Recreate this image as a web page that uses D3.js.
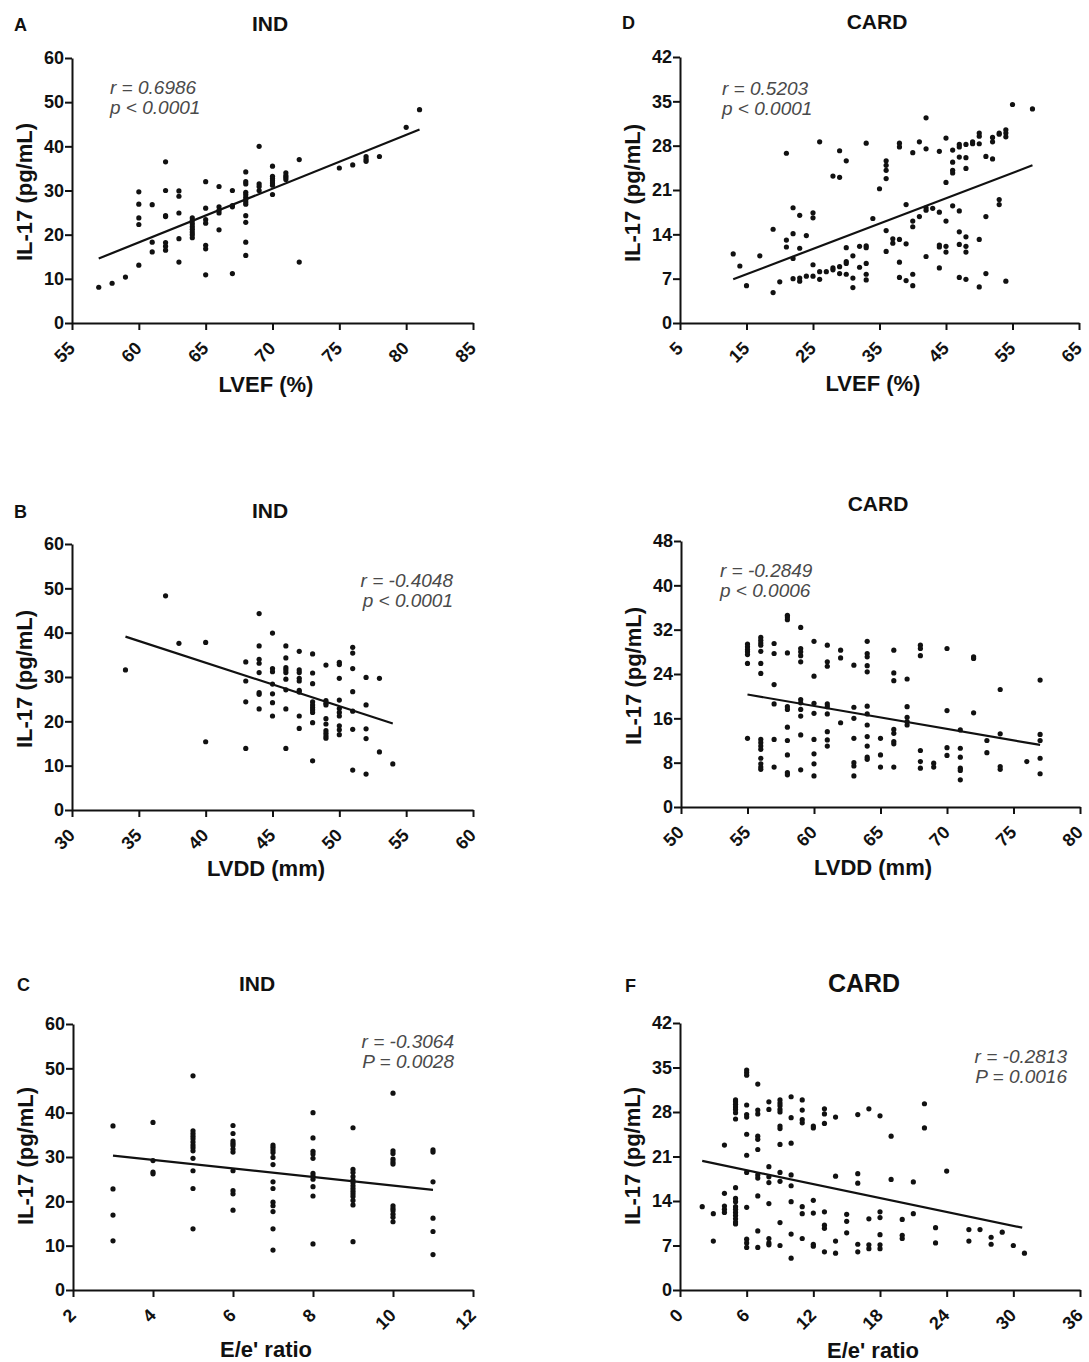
<!DOCTYPE html>
<html>
<head>
<meta charset="utf-8">
<script src="https://cdn.jsdelivr.net/npm/d3@7"></script>
<style>
  body { margin: 0; background: #fff; }
  svg { display: block; font-family: "Liberation Sans", Arial, Helvetica, sans-serif; }
</style>
</head>
<body>
<div id="chart"></div>
<script>
// IL-17 vs echo parameters, [x, IL-17] pairs

const ptsA = [[57,8.1],[58,9],[59,10.4],
  [60,29.7],[60,26.9],[60,23.8],[60,22.3],[60,13.1],
  [61,26.8],[61,18.3],[61,16.1],
  [62,36.5],[62,30],[62,24.3],[62,24.1],[62,18.2],[62,17.4],[62,16.5],
  [63,29.9],[63,28.7],[63,24.9],[63,19.1],[63,13.8],
  [64,23.8],[64,23.2],[64,22.5],[64,21.8],[64,21.2],[64,20.6],[64,20],[64,19.3],
  [65,32],[65,26],[65,23.4],[65,22.6],[65,17.6],[65,16.8],[65,10.9],
  [66,30.9],[66,26.3],[66,25.5],[66,24.9],[66,21.1],
  [67,30],[67,26.6],[67,26.3],[67,11.2],
  [68,34.2],[68,32],[68,31.5],[68,29.6],[68,29.1],[68,28.5],[68,27.9],[68,27.4],[68,26.9],[68,24.3],[68,22.8],[68,18.3],[68,15.3],
  [69,40],[69,31.5],[69,30.9],[69,30],
  [70,35.5],[70,33.2],[70,32.7],[70,32.2],[70,31.7],[70,31.2],[70,29.1],
  [71,34],[71,33.4],[71,33],[71,32.5],
  [72,37],[72,13.8],
  [75,35.1],[76,35.8],[77,37.7],[77,37.1],[77,36.6],[78,37.7],[80,44.3],[81,48.3]]

const ptsD = [[13,10.9],[14,9],[15,5.9],[17,10.6],[19,4.8],[19,14.8],[20,6.5],
  [21,26.8],[21,13.1],[21,12],
  [22,18.2],[22,14.1],[22,10.2],[22,7],
  [23,17],[23,11.8],[23,7.1],[23,6.6],
  [24,13.8],[24,7.4],
  [25,17.4],[25,16.6],[25,9.2],[25,7.4],
  [26,28.6],[26,8.1],[26,6.9],[27,8.1],
  [28,23.2],[28,8.4],[28,8.7],
  [29,27.2],[29,23],[29,8.9],[29,7.8],
  [30,25.6],[30,11.9],[30,9.7],[30,9.4],[30,7.7],
  [31,10.6],[31,7.1],[31,5.6],
  [32,12.1],[32,8.8],
  [33,28.4],[33,12.2],[33,11.9],[33,9.4],[33,7.7],[33,6.8],
  [34,16.5],[35,21.2],
  [36,25.6],[36,24.9],[36,24.1],[36,22.8],[36,14.6],[36,11.3],
  [37,13.3],[37,12.6],
  [38,28.4],[38,27.8],[38,13.2],[38,9.6],[38,7.2],
  [39,18.7],[39,12.5],[39,6.7],
  [40,26.9],[40,16.1],[40,15.2],[40,7.7],[40,5.9],
  [41,28.6],[41,16.8],
  [42,32.4],[42,27.5],[42,18.2],[42,17.8],[42,10.5],
  [43,18.1],
  [44,27.1],[44,17.5],[44,12.3],[44,12],[44,8.7],
  [45,29.2],[45,22.2],[45,16.1],[45,12.1],[45,11.2],
  [46,27.3],[46,25.4],[46,24.1],[46,23.7],[46,18.5],
  [47,28.2],[47,27.8],[47,26.2],[47,17.7],[47,14.4],[47,12.4],[47,7.2],
  [48,28.2],[48,26.1],[48,24.4],[48,13.6],[48,12.1],[48,11.2],[48,6.9],
  [49,28.3],[49,28.6],
  [50,30],[50,29.5],[50,28.3],[50,13.2],[50,5.7],
  [51,26.3],[51,16.8],[51,7.8],
  [52,29.3],[52,28.6],[52,25.9],
  [53,30],[53,29.8],[53,19.5],[53,18.7],
  [54,30.5],[54,30],[54,29.4],[54,6.6],
  [55,34.5],[58,33.8]]

const ptsB = [[34,31.6],[37,48.3],[38,37.6],[40,37.8],[40,15.4],
  [43,33.4],[43,29.1],[43,24.4],[43,13.9],
  [44,44.3],[44,37],[44,34],[44,33.1],[44,31],[44,26.5],[44,26.1],[44,22.8],
  [45,39.9],[45,31.9],[45,31.2],[45,28.4],[45,26.2],[45,24.2],[45,21.2],
  [46,37],[46,34.3],[46,32.1],[46,31.6],[46,31],[46,29.5],[46,27.1],[46,22.8],[46,13.9],
  [47,35.8],[47,31.6],[47,31],[47,29.7],[47,29.1],[47,27],[47,26.6],[47,21.2],[47,18.4],
  [48,35.2],[48,30.9],[48,28.5],[48,24.4],[48,23.7],[48,23.1],[48,22.6],[48,22],[48,19.7],[48,11.1],
  [49,32.7],[49,24.7],[49,24.1],[49,23.7],[49,20.6],[49,19.4],[49,17.9],[49,17.3],[49,16.7],[49,16.2],
  [50,33.3],[50,32.8],[50,29.7],[50,24.8],[50,22.9],[50,22],[50,21.2],[50,19],[50,18.1],[50,17],
  [51,36.7],[51,35.4],[51,31.9],[51,26.7],[51,22.3],[51,18.2],[51,9],
  [52,29.9],[52,23.7],[52,18.3],[52,16.1],[52,8.1],
  [53,29.7],[53,13.1],[54,10.4]]

const ptsE = [[55,29.4],[55,28.9],[55,28.4],[55,28],[55,27.5],[55,25.9],[55,12.4],
  [56,30.6],[56,30.1],[56,29.6],[56,29.2],[56,28.1],[56,25.9],[56,24.1],[56,12.2],[56,11.6],[56,11],[56,10.4],[56,8.8],[56,7.8],[56,7.2],[56,6.8],
  [57,29.5],[57,27.7],[57,22.1],[57,18.6],[57,12.2],[57,7.2],
  [58,34.6],[58,34.3],[58,33.8],[58,27.8],[58,18.1],[58,17.6],[58,14.4],[58,12],[58,9.4],[58,6.2],[58,5.8],
  [59,32.4],[59,28.6],[59,28],[59,27.3],[59,26.2],[59,19.4],[59,18.8],[59,17.6],[59,16.4],[59,13],[59,6.7],
  [60,29.9],[60,23.6],[60,18.7],[60,16.9],[60,12.2],[60,9.6],[60,7.8],[60,5.6],
  [61,29.2],[61,26.2],[61,25.4],[61,18.6],[61,18.1],[61,16.8],[61,13.6],[61,12.1],[61,11],
  [62,28.3],[62,26.9],[62,15.2],
  [63,25.6],[63,18],[63,16],[63,12.4],[63,8],[63,7.4],[63,5.6],
  [64,29.9],[64,27.7],[64,27.1],[64,25.5],[64,24.4],[64,18.2],[64,16.8],[64,14.8],[64,12.7],[64,11],[64,9],[64,8.6],
  [65,12.4],[65,9.4],[65,7.2],
  [66,28.3],[66,24.2],[66,22.8],[66,14],[66,13.3],[66,11.8],[66,11.4],[66,7.2],
  [67,23.1],[67,18.1],[67,16.2],[67,15.4],[67,14.8],
  [68,29.2],[68,28.6],[68,27.3],[68,10.2],[68,8.2],[68,7],
  [69,7.9],[69,7.2],
  [70,28.6],[70,17.4],[70,10.7],[70,9.3],
  [71,13.9],[71,10.6],[71,9],[71,7],[71,6.6],[71,4.9],
  [72,27.1],[72,26.8],[72,17],
  [73,12],[73,9.8],
  [74,21.2],[74,13.2],[74,7.3],[74,6.8],
  [76,8.2],
  [77,22.9],[77,13.1],[77,12],[77,8.8],[77,6]]

const ptsC = [[3,37],[3,22.8],[3,16.9],[3,11.1],
  [4,37.8],[4,29.2],[4,26.6],[4,26.2],
  [5,48.3],[5,35.9],[5,35.3],[5,34.7],[5,34.1],[5,33.4],[5,32.7],[5,32.1],[5,31.4],[5,29.7],[5,26.9],[5,22.9],[5,13.8],
  [6,37.1],[6,35.3],[6,33.6],[6,33.1],[6,32.6],[6,31.8],[6,31.1],[6,26.9],[6,22.4],[6,21.7],[6,18],
  [7,32.7],[7,32.2],[7,31.6],[7,31],[7,29.9],[7,28.3],[7,24.4],[7,22.9],[7,19.8],[7,19],[7,17.7],[7,13.8],[7,9],
  [8,40],[8,34.3],[8,31.3],[8,30.7],[8,29.7],[8,26.3],[8,25.7],[8,25],[8,23.3],[8,21.2],[8,10.4],
  [9,36.6],[9,27.2],[9,26.5],[9,25.6],[9,24.8],[9,24.2],[9,23.5],[9,22.9],[9,22.3],[9,21.7],[9,21.1],[9,20.2],[9,19.2],[9,10.9],
  [10,44.4],[10,31.4],[10,30.8],[10,29.5],[10,28.9],[10,28.4],[10,19],[10,18.4],[10,17.9],[10,17.1],[10,16.4],[10,15.4],
  [11,31.6],[11,31.1],[11,24.4],[11,16.2],[11,13.2],[11,8]]

const ptsF = [[2,13.1],[3,12],[3,7.7],
  [4,22.8],[4,15.2],[4,13.2],[4,12.7],[4,12.2],
  [5,29.9],[5,29.6],[5,29.2],[5,28.8],[5,28.4],[5,27.9],[5,26.9],[5,16.1],[5,14.4],[5,13.9],[5,13.1],[5,12.7],[5,12.2],[5,11.7],[5,11.2],[5,10.7],[5,10.4],
  [6,34.6],[6,34.2],[6,33.8],[6,29.1],[6,27.6],[6,27.2],[6,24.5],[6,21.2],[6,18.5],[6,13],[6,8],[6,7.4],[6,6.7],
  [7,32.4],[7,28.3],[7,27.7],[7,24.2],[7,23.7],[7,22.1],[7,18.1],[7,17.6],[7,14.8],[7,9.3],[7,6.7],
  [8,29.6],[8,28.4],[8,19.4],[8,17.8],[8,16.9],[8,13.6],[8,8.1],[8,7.4],[8,7.1],
  [9,29.9],[9,29.4],[9,29],[9,28.4],[9,28],[9,25.8],[9,25.4],[9,22.9],[9,18.5],[9,17.1],[9,10.6],[9,7],
  [10,30.4],[10,27.1],[10,23.1],[10,18.1],[10,16.4],[10,13.9],[10,8.8],[10,5],
  [11,29.9],[11,28.3],[11,26.8],[11,26.3],[11,13.1],[11,12],[11,8.1],
  [12,25.8],[12,25.5],[12,14.1],[12,12.1],[12,7.2],[12,6.9],
  [13,28.5],[13,27.7],[13,26.2],[13,12.3],[13,10.2],[13,9.7],[13,6],
  [14,27.2],[14,17.9],[14,7.7],[14,5.8],
  [15,11.9],[15,10.8],[15,9],
  [16,27.6],[16,18.3],[16,16.8],[16,7.2],[16,6],
  [17,28.5],[17,11.2],[17,7.1],[17,6.5],
  [18,27.4],[18,12.3],[18,11.4],[18,8.7],[18,7.1],[18,6.5],
  [19,24.2],[19,17.4],
  [20,11.1],[20,8.6],[20,8.1],
  [21,17],[21,12],
  [22,29.3],[22,25.5],
  [23,9.8],[23,7.4],
  [24,18.7],
  [26,9.5],[26,7.7],[27,9.5],[28,8.3],[28,7.2],[29,9.1],[30,7],[31,5.8]]

// regression line end points
const fitA = [[57,14.6],[81,43.8]]
const fitD = [[13,6.9],[58,24.9]]
const fitB = [[34,39.1],[54,19.5]]
const fitE = [[55,20.3],[77,11.2]]
const fitC = [[3,30.3],[11,22.6]]
const fitF = [[2,20.3],[30.8,9.8]]

const statsA = ["r = 0.6986", "p < 0.0001"]
const statsD = ["r = 0.5203", "p < 0.0001"]
const statsB = ["r = -0.4048", "p < 0.0001"]
const statsE = ["r = -0.2849", "p < 0.0006"]
const statsC = ["r = -0.3064", "P = 0.0028"]
const statsF = ["r = -0.2813", "P = 0.0016"]

const xTicksLvefInd = [55, 60, 65, 70, 75, 80, 85]
const xTicksLvefCard = [5, 15, 25, 35, 45, 55, 65]
const xTicksLvddInd = [30, 35, 40, 45, 50, 55, 60]
const xTicksLvddCard = [50, 55, 60, 65, 70, 75, 80]
const xTicksRatioInd = [2, 4, 6, 8, 10, 12]
const xTicksRatioCard = [0, 6, 12, 18, 24, 30, 36]
const yTicks60 = [0, 10, 20, 30, 40, 50, 60]
const yTicks42 = [0, 7, 14, 21, 28, 35, 42]
const yTicks48 = [0, 8, 16, 24, 32, 40, 48]

const yLabel = "IL-17 (pg/mL)"

const panels = [
  {letter: "A", title: "IND", pts: ptsA, fit: fitA, stats: statsA, xTicks: xTicksLvefInd, yTicks: yTicks60,
   xLabel: "LVEF (%)", box: [72, 58, 473, 323], letterX: 14, titleX: 270, titleY: 31, titleSize: 21,
   xLabelX: 266, xLabelY: 392, yLabelY: 192, statsX: 110, statsY: 94, statsAnchor: "start"},
  {letter: "D", title: "CARD", pts: ptsD, fit: fitD, stats: statsD, xTicks: xTicksLvefCard, yTicks: yTicks42,
   xLabel: "LVEF (%)", box: [680, 57, 1079, 323], letterX: 622, titleX: 877, titleY: 29, titleSize: 21,
   xLabelX: 873, xLabelY: 391, yLabelY: 193, statsX: 722, statsY: 95, statsAnchor: "start"},
  {letter: "B", title: "IND", pts: ptsB, fit: fitB, stats: statsB, xTicks: xTicksLvddInd, yTicks: yTicks60,
   xLabel: "LVDD (mm)", box: [72, 544, 473, 810], letterX: 14, titleX: 270, titleY: 518, titleSize: 21,
   xLabelX: 266, xLabelY: 876, yLabelY: 679, statsX: 453, statsY: 587, statsAnchor: "end"},
  {letter: "", title: "CARD", pts: ptsE, fit: fitE, stats: statsE, xTicks: xTicksLvddCard, yTicks: yTicks48,
   xLabel: "LVDD (mm)", box: [681, 541, 1080, 807], letterX: 622, titleX: 878, titleY: 511, titleSize: 21,
   xLabelX: 873, xLabelY: 875, yLabelY: 676, statsX: 720, statsY: 577, statsAnchor: "start"},
  {letter: "C", title: "IND", pts: ptsC, fit: fitC, stats: statsC, xTicks: xTicksRatioInd, yTicks: yTicks60,
   xLabel: "E/e' ratio", box: [73, 1024, 473, 1290], letterX: 17, titleX: 257, titleY: 991, titleSize: 21,
   xLabelX: 266, xLabelY: 1357, yLabelY: 1156, statsX: 454, statsY: 1048, statsAnchor: "end"},
  {letter: "F", title: "CARD", pts: ptsF, fit: fitF, stats: statsF, xTicks: xTicksRatioCard, yTicks: yTicks42,
   xLabel: "E/e' ratio", box: [680, 1023, 1080, 1290], letterX: 625, titleX: 864, titleY: 992, titleSize: 25,
   xLabelX: 873, xLabelY: 1358, yLabelY: 1156, statsX: 1067, statsY: 1063, statsAnchor: "end"}
]

const width = 1089, height = 1362

const svg = d3.select("#chart").append("svg")
  .attr("width", width)
  .attr("height", height)
  .attr("viewBox", [0, 0, width, height])

function drawPanel(p) {
  const [x0, y0, x1, y1] = p.box
  const x = d3.scaleLinear().domain(d3.extent(p.xTicks)).range([x0, x1])
  const y = d3.scaleLinear().domain(d3.extent(p.yTicks)).range([y1, y0])
  const g = svg.append("g")

  const styleAxis = ax => {
    ax.select(".domain").attr("stroke", "#111").attr("stroke-width", 2)
    ax.selectAll(".tick line").attr("stroke", "#111").attr("stroke-width", 2)
    ax.selectAll(".tick text")
      .attr("fill", "#111")
      .attr("font-size", 18)
      .attr("font-weight", "bold")
    ax.attr("font-family", null)
  }

  g.append("g")
    .attr("transform", `translate(${x0},0)`)
    .call(d3.axisLeft(y).tickValues(p.yTicks).tickSize(7).tickSizeOuter(0).tickPadding(1))
    .call(styleAxis)

  // rotated x tick labels, end of text sitting just right of the tick
  g.append("g")
    .attr("transform", `translate(0,${y1})`)
    .call(d3.axisBottom(x).tickValues(p.xTicks).tickSize(7).tickSizeOuter(0))
    .call(styleAxis)
    .call(ax => ax.selectAll(".tick text")
      .attr("y", 0)
      .attr("dy", "0.35em")
      .attr("text-anchor", "end")
      .attr("transform", "translate(-1,22) rotate(-45)"))

  g.append("g")
    .selectAll("circle")
    .data(p.pts)
    .join("circle")
      .attr("cx", d => x(d[0]))
      .attr("cy", d => y(d[1]))
      .attr("r", 2.6)
      .attr("fill", "#111")

  g.append("path")
    .datum(p.fit)
    .attr("fill", "none")
    .attr("stroke", "#111")
    .attr("stroke-width", 2.2)
    .attr("d", d3.line().x(d => x(d[0])).y(d => y(d[1])))

  const stats = g.append("text")
    .attr("font-size", 19)
    .attr("font-style", "italic")
    .attr("fill", "#4a4a4a")
    .attr("text-anchor", p.statsAnchor)
  p.stats.forEach((s, i) => {
    stats.append("tspan")
      .attr("x", p.statsX)
      .attr("y", p.statsY + i * 20)
      .text(s)
  })

  if (p.letter) {
    g.append("text")
      .attr("x", p.letterX)
      .attr("y", p.titleY)
      .attr("font-size", 18)
      .attr("font-weight", "bold")
      .attr("fill", "#111")
      .text(p.letter)
  }

  g.append("text")
    .attr("x", p.titleX)
    .attr("y", p.titleY)
    .attr("text-anchor", "middle")
    .attr("font-size", p.titleSize)
    .attr("font-weight", "bold")
    .attr("fill", "#111")
    .text(p.title)

  g.append("text")
    .attr("x", p.xLabelX)
    .attr("y", p.xLabelY)
    .attr("text-anchor", "middle")
    .attr("font-size", 22)
    .attr("font-weight", "bold")
    .attr("fill", "#111")
    .text(p.xLabel)

  g.append("text")
    .attr("transform", `translate(${x0 - 40},${p.yLabelY}) rotate(-90)`)
    .attr("text-anchor", "middle")
    .attr("font-size", 22)
    .attr("font-weight", "bold")
    .attr("fill", "#111")
    .text(yLabel)
}

panels.forEach(drawPanel)
</script>
</body>
</html>
